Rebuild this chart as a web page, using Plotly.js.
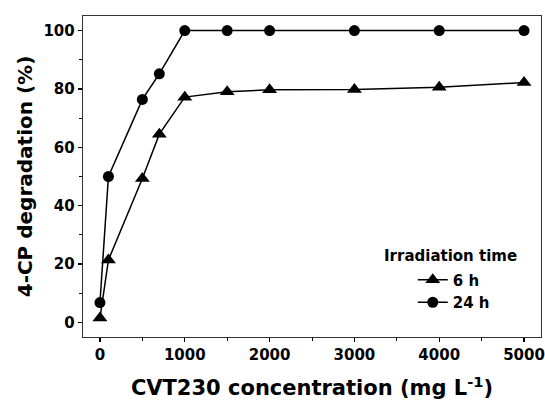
<!DOCTYPE html>
<html>
<head>
<meta charset="utf-8">
<script src="https://cdn.plot.ly/plotly-3.0.1.min.js"></script>
<style>html,body{margin:0;padding:0;background:#fff;}#chart{width:545px;height:403px;}</style>
</head>
<body>
<div id="chart"></div>
<script>
const concentration = [0, 100, 500, 700, 1000, 1500, 2000, 3000, 4000, 5000];
const degradation6h = [1.5, 21.4, 49.3, 64.5, 77.2, 79.0, 79.7, 79.8, 80.6, 82.2];
const degradation24h = [6.8, 50.0, 76.4, 85.2, 100, 100, 100, 100, 100, 100];
const seriesNames = ["6 h", "24 h"];
const xTicks = [0, 1000, 2000, 3000, 4000, 5000];
const yTicks = [0, 20, 40, 60, 80, 100];

const FONT = "DejaVu Sans, Arial, sans-serif";

const traces = [
  {x: concentration, y: degradation6h, name: seriesNames[0], type: "scatter", mode: "lines+markers",
   line: {color: "#000", width: 1.5}, marker: {symbol: "triangle-up", size: 13, color: "#000"}},
  {x: concentration, y: degradation24h, name: seriesNames[1], type: "scatter", mode: "lines+markers",
   line: {color: "#000", width: 1.5}, marker: {symbol: "circle", size: 11, color: "#000"}}
];

const axisCommon = {
  showgrid: false, zeroline: false, showline: true, mirror: true,
  linecolor: "#333", linewidth: 1.3, ticks: "outside", ticklen: 4, tickwidth: 1.2, tickcolor: "#000",
  tickfont: {family: FONT, size: 15, color: "#000", weight: "bold"},
  minor: {ticks: "outside", ticklen: 3, tickwidth: 1, tickcolor: "#000"}
};

const layout = {
  width: 545, height: 403,
  margin: {l: 83, r: 4, t: 16, b: 66},
  paper_bgcolor: "#fff", plot_bgcolor: "#fff",
  showlegend: true,
  xaxis: Object.assign({}, axisCommon, {
    range: [-200, 5200], tickvals: xTicks, ticktext: xTicks.map(String),
    minor: Object.assign({}, axisCommon.minor, {dtick: 500, tick0: 0}),
    title: {text: "CVT230 concentration (mg L<sup>-1</sup>)", standoff: 17,
            font: {family: FONT, size: 21, color: "#000", weight: "bold"}}
  }),
  yaxis: Object.assign({}, axisCommon, {
    range: [-5, 105], tickvals: yTicks, ticktext: yTicks.map(String),
    minor: Object.assign({}, axisCommon.minor, {dtick: 10, tick0: 0}),
    title: {text: "4-CP degradation (%)", standoff: 5,
            font: {family: FONT, size: 20, color: "#000", weight: "bold"}}
  }),
  legend: {x: 0.72, y: 0.229, xanchor: "left", yanchor: "top", bgcolor: "rgba(0,0,0,0)",
           font: {family: FONT, size: 15, color: "#000", weight: "bold"}, tracegroupgap: 0},
  annotations: [{text: "Irradiation time", xref: "paper", yref: "paper", x: 0.803, y: 0.253,
                 xanchor: "center", yanchor: "middle", showarrow: false,
                 font: {family: FONT, size: 15, color: "#000", weight: "bold"}}]
};

Plotly.newPlot("chart", traces, layout, {displayModeBar: false, staticPlot: true});
</script>
</body>
</html>
